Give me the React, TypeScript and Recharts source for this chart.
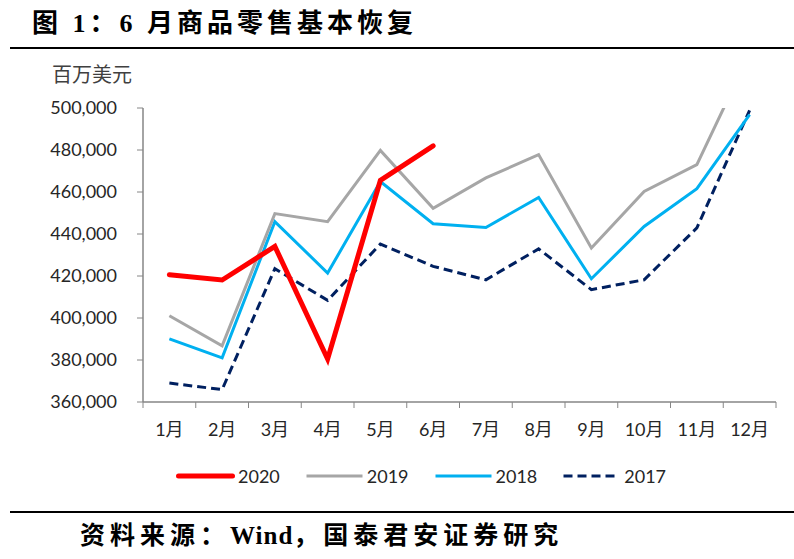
import { LineChart, Line, XAxis, YAxis } from 'recharts'

const months = ['1月', '2月', '3月', '4月', '5月', '6月', '7月', '8月', '9月', '10月', '11月', '12月']
const sales2020 = [420600, 418100, 434100, 380500, 465500, 482000, null, null, null, null, null, null]
const sales2019 = [401100, 386800, 449700, 445900, 479800, 452200, 466700, 477800, 433300, 460300, 473000, 526000]
const sales2018 = [390100, 381000, 445900, 421400, 465000, 444900, 443100, 457400, 418700, 443600, 461600, 496800]
const sales2017 = [369000, 365900, 423500, 408400, 435200, 424600, 418200, 432900, 413500, 418200, 442900, 498900]
const yTicks = [360000, 380000, 400000, 420000, 440000, 460000, 480000, 500000]

const series = [
  { key: '2020', values: sales2020, color: '#FF0000', width: 5, dash: undefined as string | undefined },
  { key: '2019', values: sales2019, color: '#A6A6A6', width: 3, dash: undefined },
  { key: '2018', values: sales2018, color: '#00B0F0', width: 3, dash: undefined },
  { key: '2017', values: sales2017, color: '#002060', width: 3, dash: '9 5' },
]

const data = months.map((m, i) => {
  const row: Record<string, any> = { month: m }
  series.forEach(s => { row[s.key] = s.values[i] })
  return row
})

const W = 794
const H = 559
const margin = { top: 108, right: 18, bottom: 117, left: 63 }
const yAxisWidth = 80
const plotW = W - margin.left - margin.right - yAxisWidth
const half = plotW / months.length / 2
const tickMargin = 6

const sans = 'Lato, "Noto Sans CJK SC", sans-serif'
const serifBold = '"Liberation Serif", "Noto Sans CJK SC", serif'
const axisColor = '#868686'
const textColor = '#262626'

const MonthTick = ({ x, y, payload, index }: any) => {
  const axisY = y - tickMargin
  return (
    <g>
      <line x1={x - half} x2={x - half} y1={axisY} y2={axisY + 6} stroke={axisColor} />
      {index === months.length - 1 && (
        <line x1={x + half} x2={x + half} y1={axisY} y2={axisY + 6} stroke={axisColor} />
      )}
      <text x={x} y={axisY + 29} textAnchor="middle" dominantBaseline="middle"
        fontSize={18} fill={textColor} fontFamily={sans}>
        {payload.value}
      </text>
    </g>
  )
}

export default function App() {
  return (
    <div style={{ position: 'absolute', left: 0, top: 0, width: W, height: H, background: '#fff', fontFamily: sans }}>
      <div style={{
        position: 'absolute', left: 32, top: 7, fontFamily: serifBold, fontWeight: 'bold',
        fontSize: 26, letterSpacing: 4, color: '#000', whiteSpace: 'nowrap', lineHeight: '34px',
      }}>
        图 1：6 月商品零售基本恢复
      </div>
      <div style={{ position: 'absolute', left: 10, right: 0, top: 47, height: 2, background: '#000' }} />
      <div style={{
        position: 'absolute', left: 52, top: 61, fontSize: 20, color: '#404040',
        fontFamily: '"Noto Sans CJK SC", sans-serif', lineHeight: '26px',
      }}>
        百万美元
      </div>

      <LineChart width={W} height={H} data={data} margin={margin} style={{ position: 'absolute', left: 0, top: 0 }}>
        <XAxis
          dataKey="month"
          type="category"
          padding={{ left: half, right: half }}
          axisLine={{ stroke: axisColor, strokeWidth: 1.5 }}
          tickLine={false}
          tickSize={0}
          tickMargin={tickMargin}
          tick={<MonthTick />}
          interval={0}
          height={40}
        />
        <YAxis
          domain={[360000, 500000]}
          ticks={yTicks}
          allowDataOverflow
          width={yAxisWidth}
          axisLine={{ stroke: axisColor, strokeWidth: 1.5 }}
          tickLine={{ stroke: axisColor }}
          tickSize={6}
          tickMargin={20}
          tick={{ fontSize: 18, fill: textColor, fontFamily: sans }}
          tickFormatter={(v: number) => v.toLocaleString('en-US')}
        />
        {[...series].reverse().map(s => (
          <Line
            key={s.key}
            dataKey={s.key}
            stroke={s.color}
            strokeWidth={s.width}
            strokeDasharray={s.dash}
            strokeLinecap={s.key === '2020' ? 'round' : 'butt'}
            dot={false}
            activeDot={false}
            connectNulls={false}
            isAnimationActive={false}
          />
        ))}
      </LineChart>

      <div style={{ position: 'absolute', left: 176, top: 464, display: 'flex', alignItems: 'center' }}>
        {series.map(s => (
          <div key={s.key} style={{ display: 'flex', alignItems: 'center', marginRight: 25 }}>
            <svg width={59} height={10}>
              <line x1={s.width / 2} x2={59 - s.width / 2} y1={5} y2={5} stroke={s.color}
                strokeWidth={s.width} strokeDasharray={s.dash}
                strokeLinecap={s.key === '2020' ? 'round' : 'butt'} />
            </svg>
            <span style={{ marginLeft: 3, fontSize: 18, color: textColor, lineHeight: '24px' }}>{s.key}</span>
          </div>
        ))}
      </div>

      <div style={{ position: 'absolute', left: 10, right: 0, top: 511, height: 2, background: '#000' }} />
      <div style={{
        position: 'absolute', left: 80, top: 521, fontFamily: serifBold, fontWeight: 'bold',
        fontSize: 25, letterSpacing: 5, color: '#000', whiteSpace: 'nowrap', lineHeight: '30px',
      }}>
        资料来源：<span style={{ letterSpacing: 1 }}>Wind</span>，国泰君安证券研究
      </div>
    </div>
  )
}
